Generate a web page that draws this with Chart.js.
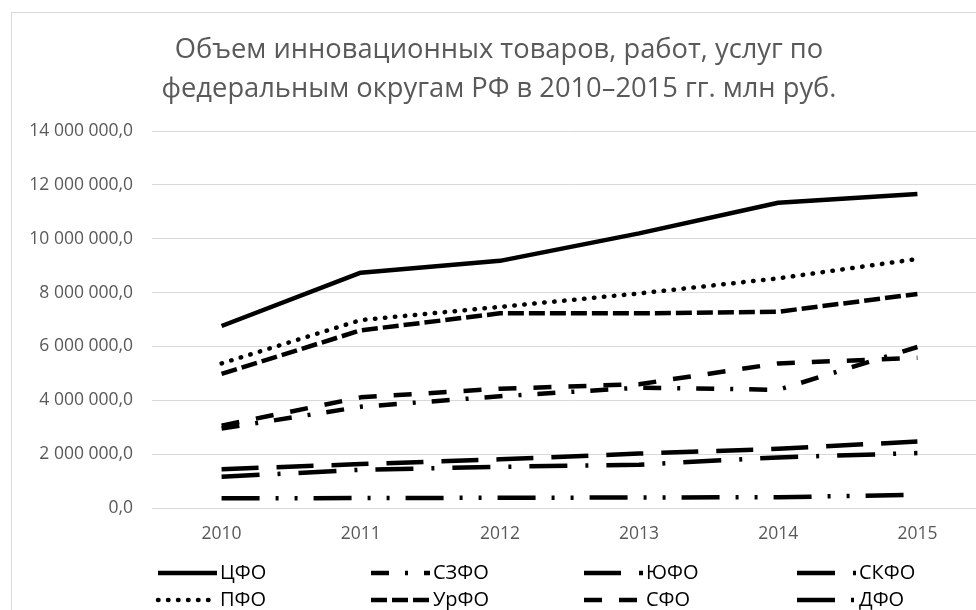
<!DOCTYPE html>
<html lang="ru">
<head>
<meta charset="utf-8">
<title>Объем инновационных товаров</title>
<script src="https://cdn.jsdelivr.net/npm/chart.js@4"></script>
<style>
  html, body { margin: 0; padding: 0; background: #fff; overflow: hidden; }
  #frame { position: absolute; left: 11px; top: 12px; width: 1200px; height: 800px; border: 1px solid #d9d9d9; }
  #my-chart { position: absolute; left: 0; top: 0; }
</style>
</head>
<body>
<div id="frame"></div>
<canvas id="my-chart" width="1000" height="640"></canvas>
<script>
const years = ["2010", "2011", "2012", "2013", "2014", "2015"];
const districts = ["ЦФО", "СЗФО", "ЮФО", "СКФО", "ПФО", "УрФО", "СФО", "ДФО"];

const cfo = [6760000, 8740000, 9180000, 10200000, 11340000, 11660000];
const szfo = [2950000, 3760000, 4150000, 4470000, 4390000, 5980000];
const yufo = [1440000, 1630000, 1810000, 2020000, 2200000, 2470000];
const skfo = [1160000, 1420000, 1530000, 1610000, 1880000, 2040000];
const pfo = [5370000, 6980000, 7470000, 7970000, 8530000, 9250000];
const urfo = [4980000, 6600000, 7230000, 7230000, 7290000, 7950000];
const sfo = [3060000, 4110000, 4430000, 4600000, 5370000, 5580000];
const dfo = [360000, 370000, 380000, 390000, 400000, 490000];

const yTicks = [0, 2000000, 4000000, 6000000, 8000000, 10000000, 12000000, 14000000];

const values = [cfo, szfo, yufo, skfo, pfo, urfo, sfo, dfo];
const dashes = [[], [18, 16, 3, 16], [37, 18], [38, 18, 3, 18], [0.5, 9.5], [16, 5], [18, 17], [38, 16, 3, 16, 3, 16]];

const formatNumber = (v) => String(v).replace(/\B(?=(\d{3})+(?!\d))/g, " ") + ",0";

// legend drawn in a 4 x 2 grid like the original
const gridLegend = {
  id: "gridLegend",
  afterDraw(chart) {
    const ctx = chart.ctx;
    chart.data.datasets.forEach((ds, i) => {
      const x = 158 + (i % 4) * 213;
      const y = 573 + Math.floor(i / 4) * 27;
      ctx.save();
      ctx.strokeStyle = ds.borderColor;
      ctx.lineWidth = ds.borderWidth;
      ctx.lineCap = ds.borderCapStyle;
      ctx.setLineDash(ds.borderDash);
      ctx.beginPath();
      ctx.moveTo(x, y);
      ctx.lineTo(x + 59, y);
      ctx.stroke();
      ctx.setLineDash([]);
      ctx.fillStyle = "#000";
      ctx.font = "20px 'Open Sans'";
      ctx.textBaseline = "middle";
      ctx.fillText(ds.label, x + 62, y);
      ctx.restore();
    });
  },
};

let ctx = document.getElementById("my-chart").getContext("2d");
let chart = new Chart(ctx, {
  // The type of chart we want to create
  type: "line",

  // The data for our dataset
  data: {
    labels: years,
    datasets: districts.map((name, i) => ({
      label: name,
      data: values[i],
      borderColor: "#000",
      backgroundColor: "#000",
      borderWidth: 4.5,
      borderDash: dashes[i],
      borderCapStyle: name === "ПФО" ? "round" : "butt",
      borderJoinStyle: "round",
      pointRadius: 0,
      tension: 0,
      fill: false,
    })),
  },

  // Configuration options go here
  options: {
    responsive: false,
    animation: false,
    devicePixelRatio: 1,
    layout: { padding: { left: 11, right: 13, top: 0, bottom: 92 } },
    plugins: {
      legend: { display: false },
      tooltip: { enabled: false },
      title: {
        display: true,
        text: ["Объем инновационных товаров, работ, услуг по", "федеральным округам РФ в 2010–2015 гг. млн руб."],
        color: "#595959",
        font: { family: "'Open Sans'", size: 27.3, weight: "normal", lineHeight: 1.43 },
        padding: { top: 31, bottom: 22 },
      },
    },
    scales: {
      x: {
        offset: true,
        grid: { display: false },
        border: { display: false },
        ticks: { color: "#595959", font: { family: "'Open Sans'", size: 17.5 }, padding: 8, maxRotation: 0 },
        afterFit: (s) => { s.height = 40; },
      },
      y: {
        min: 0,
        max: 14000000,
        afterBuildTicks: (s) => { s.ticks = yTicks.map((v) => ({ value: v })); },
        grid: { color: "#d9d9d9", lineWidth: 1, drawTicks: false },
        border: { display: false },
        ticks: { color: "#595959", font: { family: "'Open Sans'", size: 17.5 }, padding: 19, callback: formatNumber },
        afterFit: (s) => { s.width = 141; },
      },
    },
  },
  plugins: [gridLegend],
});
</script>
</body>
</html>
